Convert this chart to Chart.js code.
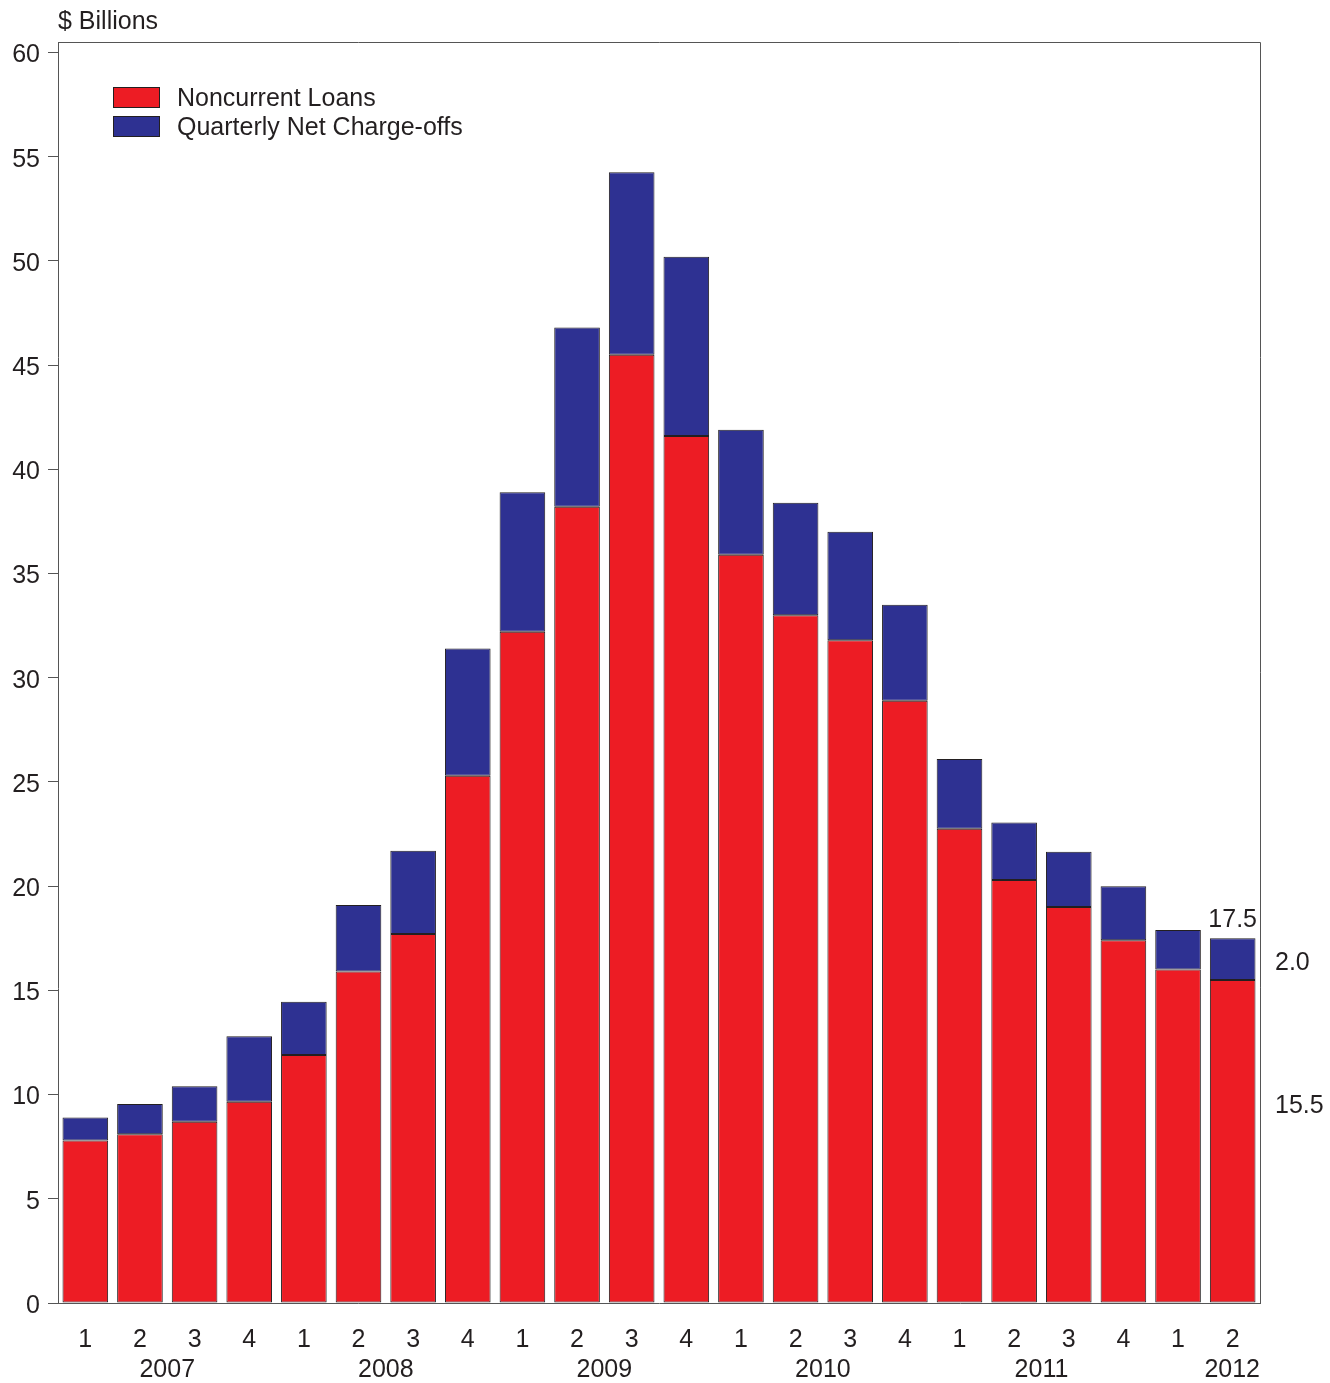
<!DOCTYPE html>
<html>
<head>
<meta charset="utf-8">
<script src="https://cdn.jsdelivr.net/npm/chart.js@4.4.1/dist/chart.umd.min.js"></script>
<style>
  html, body { margin: 0; padding: 0; background: #ffffff; }
  #wrap { width: 1330px; height: 1383px; }
</style>
</head>
<body>
<div id="wrap"><canvas id="chart" width="1330" height="1383"></canvas></div>
<script>
// data
const quarters = ['1','2','3','4','1','2','3','4','1','2','3','4','1','2','3','4','1','2','3','4','1','2'];
const years = ['2007', '2008', '2009', '2010', '2011', '2012'];
const noncurrentLoans = [7.8, 8.1, 8.7, 9.65, 11.9, 15.9, 17.7, 25.3, 32.2, 38.2, 45.5, 41.6,
                         35.9, 33.0, 31.8, 28.9, 22.75, 20.3, 19.0, 17.4, 16.0, 15.5];
const netChargeOffs = [1.1, 1.45, 1.7, 3.15, 2.55, 3.2, 4.0, 6.1, 6.7, 8.6, 8.75, 8.6,
                       6.0, 5.4, 5.2, 4.6, 3.35, 2.75, 2.65, 2.6, 1.9, 2.0];
const yTicks = [0, 5, 10, 15, 20, 25, 30, 35, 40, 45, 50, 55, 60];

const RED = '#ED1C24';
const BLUE = '#2E3192';
const INK = '#231F20';
const AXIS = '#555555';
const FONT = '"Liberation Sans", Arial, sans-serif';
const FONT_SIZE = 25;

const extras = {
    id: 'extras',
    afterDraw(chart) {
        const {ctx, chartArea, scales} = chart;
        const x = scales.x, y = scales.y;
        ctx.save();

        // frame on top and right
        ctx.strokeStyle = AXIS;
        ctx.lineWidth = 1;
        ctx.beginPath();
        ctx.moveTo(chartArea.left, chartArea.top + 0.5);
        ctx.lineTo(chartArea.right + 0.5, chartArea.top + 0.5);
        ctx.lineTo(chartArea.right + 0.5, chartArea.bottom);
        ctx.stroke();

        ctx.fillStyle = INK;
        ctx.font = FONT_SIZE + 'px ' + FONT;

        // units label
        ctx.textAlign = 'left';
        ctx.textBaseline = 'middle';
        ctx.fillText('$ Billions', chartArea.left, 22);

        // year labels, centred under each group of four quarters
        const step = x.getPixelForValue(1) - x.getPixelForValue(0);
        ctx.textAlign = 'center';
        years.forEach((yr, i) => {
            let cx = x.getPixelForValue(0) + step * (i * 4 + 1.5);
            const w = ctx.measureText(yr).width;
            cx = Math.min(cx, chartArea.right - w / 2);
            ctx.fillText(yr, cx, chartArea.bottom + 67);
        });

        // latest values
        const last = noncurrentLoans.length - 1;
        const total = noncurrentLoans[last] + netChargeOffs[last];
        ctx.textBaseline = 'bottom';
        ctx.fillText(total.toFixed(1), x.getPixelForValue(last), y.getPixelForValue(total) - 6);
        ctx.textAlign = 'left';
        ctx.textBaseline = 'middle';
        ctx.fillText(netChargeOffs[last].toFixed(1), chartArea.right + 15,
            y.getPixelForValue(noncurrentLoans[last] + netChargeOffs[last] * 0.4));
        ctx.fillText(noncurrentLoans[last].toFixed(1), chartArea.right + 15,
            y.getPixelForValue(noncurrentLoans[last] * 0.61));

        // legend
        chart.data.datasets.forEach((ds, i) => {
            const ly = 87 + i * 29;
            ctx.fillStyle = ds.backgroundColor;
            ctx.fillRect(113, ly, 47, 21);
            ctx.strokeStyle = INK;
            ctx.strokeRect(113.5, ly + 0.5, 46, 20);
            ctx.fillStyle = INK;
            ctx.fillText(ds.label, 177, ly + 12);
        });
        ctx.restore();
    }
};

new Chart(document.getElementById('chart'), {
    type: 'bar',
    data: {
        labels: quarters,
        datasets: [{
            label: 'Noncurrent Loans',
            data: noncurrentLoans,
            backgroundColor: RED,
            borderColor: INK,
            borderWidth: 1,
            borderSkipped: false
        }, {
            label: 'Quarterly Net Charge-offs',
            data: netChargeOffs,
            backgroundColor: BLUE,
            borderColor: INK,
            borderWidth: 1,
            borderSkipped: false
        }]
    },
    options: {
        responsive: false,
        animation: false,
        layout: { padding: { top: 42, right: 70, left: 0, bottom: 0 } },
        datasets: {
            bar: { barPercentage: 0.835, categoryPercentage: 1.0 }
        },
        plugins: {
            legend: { display: false },
            title: { display: false },
            tooltip: { enabled: false }
        },
        scales: {
            x: {
                stacked: true,
                grid: { display: false },
                border: { display: true, color: AXIS },
                ticks: {
                    color: INK,
                    font: { family: FONT, size: FONT_SIZE },
                    padding: 14,
                    maxRotation: 0,
                    autoSkip: false
                },
                afterFit(scale) { scale.height = 80; }
            },
            y: {
                stacked: true,
                min: 0,
                max: 60.5,
                grid: {
                    drawOnChartArea: false,
                    drawTicks: true,
                    tickLength: 10,
                    color: AXIS
                },
                border: { display: true, color: AXIS },
                afterBuildTicks(scale) {
                    scale.ticks = yTicks.map(v => ({ value: v }));
                },
                ticks: {
                    color: INK,
                    font: { family: FONT, size: FONT_SIZE },
                    padding: 8,
                    labelOffset: 3
                },
                afterFit(scale) { scale.width = 58; }
            }
        }
    },
    plugins: [extras]
});
</script>
</body>
</html>
